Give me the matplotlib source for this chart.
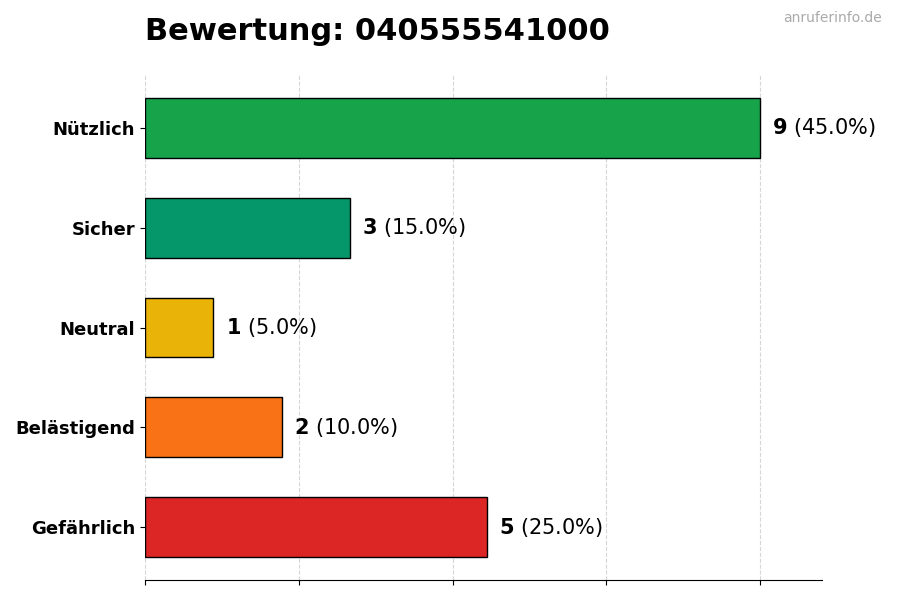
import matplotlib
matplotlib.use("Agg")
import matplotlib.pyplot as plt
import numpy as np

categories = ["Gefährlich", "Belästigend", "Neutral", "Sicher", "Nützlich"]
counts = [5, 2, 1, 3, 9]
colors = ["#dc2626", "#f97316", "#eab308", "#059669", "#16a34a"]
title = "Bewertung: 040555541000"
watermark = "anruferinfo.de"

total = sum(counts)
fig = plt.figure(figsize=(9, 6), dpi=100)
ax = fig.add_axes([0.161, 0.0333, 0.752, 0.8417])
y = np.arange(len(categories))
ax.barh(y, counts, height=0.6, color=colors, edgecolor="black", linewidth=1, zorder=2)
mx = max(counts)
ax.set_xlim(0, mx * 1.1)
ax.set_xticks(np.linspace(0, mx, 5))
ax.set_xticklabels([])
ax.set_yticks(y)
ax.set_yticklabels(categories, fontsize=13, fontweight="bold")
ax.grid(axis="x", linestyle="--", color="#cccccc", alpha=0.8, zorder=3)
for s in ["top", "right", "left"]:
    ax.spines[s].set_visible(False)
for yi, c in zip(y, counts):
    ax.annotate(f"$\\bf{{{c}}}$ ({c/total*100:.1f}%)", (c + mx * 0.02, yi), va="center", ha="left", fontsize=15)
fig.text(145/900, 1 - 31.5/600, title, fontsize=22, fontweight="bold", va="center", ha="left")
fig.text(882/900, 1 - 18/600, watermark, fontsize=10, color="#aaaaaa", ha="right", va="center")
fig.savefig("out.png", dpi=100)
